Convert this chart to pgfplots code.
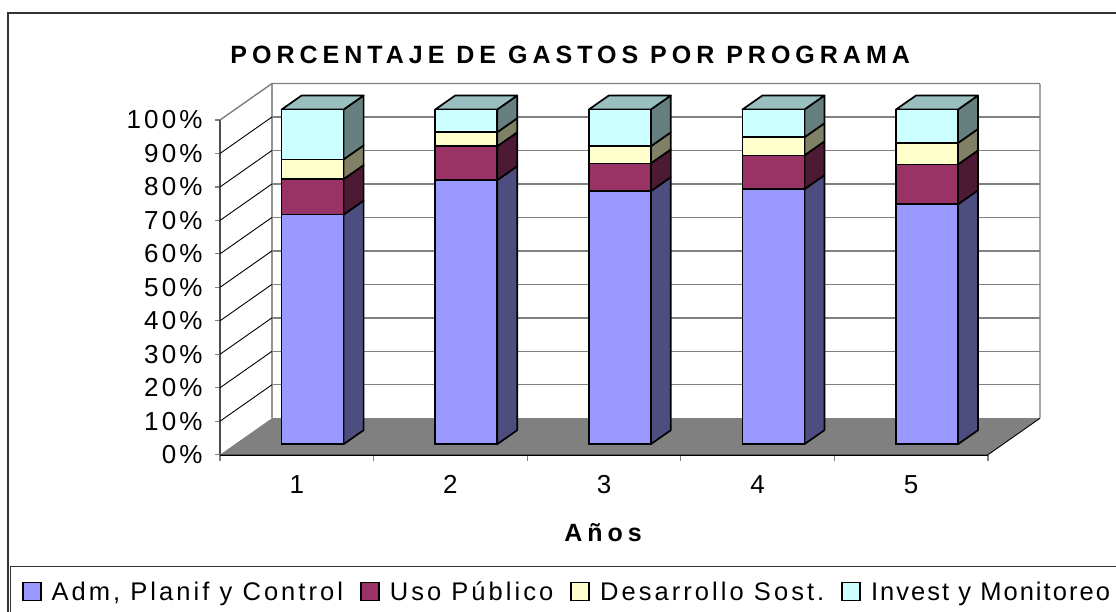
\documentclass[border=0pt]{standalone}
\usepackage{fontspec}
\setmainfont{Liberation Sans}[LetterSpace=12]
\usepackage{pgfplots}
\pgfplotsset{compat=1.18}

\definecolor{cAdm}{HTML}{9999FF}
\definecolor{cUso}{HTML}{993366}
\definecolor{cDes}{HTML}{FFFFCC}
\definecolor{cInv}{HTML}{CCFFFF}
\definecolor{sAdm}{HTML}{4D4D80}
\definecolor{sUso}{HTML}{4D1A33}
\definecolor{sDes}{HTML}{808066}
\definecolor{sInv}{HTML}{668080}
\definecolor{tInv}{HTML}{99BFBF}
\definecolor{wall}{HTML}{808080}

% one unit of x = 153.6 px, one % = 3.347 px
\pgfplotsset{
  frontaxis/.style={
    scale only axis, width=768pt, height=334.7pt,
    xmin=0.5, xmax=5.5, ymin=0, ymax=100,
    clip=false, anchor=south west,
  },
}

% side face of one stack segment
\newcommand{\sideface}[4]{%
  \pgfmathsetmacro{\xa}{#1+0.2018}\pgfmathsetmacro{\xb}{#1+0.3320}%
  \pgfmathsetmacro{\ya}{#2+4.18}\pgfmathsetmacro{\yb}{#3+4.18}%
  \edef\tmp{\noexpand\addplot[fill=#4,draw=black,line width=1.7pt,line join=round,mark=none,forget plot]
    coordinates {(\xa,#2)(\xb,\ya)(\xb,\yb)(\xa,#3)} -- cycle;}\tmp}
% all sides of a bar plus the top, cumulative values a<b<c
\newcommand{\barsides}[4]{%
  \sideface{#1}{0}{#2}{sAdm}\sideface{#1}{#2}{#3}{sUso}%
  \sideface{#1}{#3}{#4}{sDes}\sideface{#1}{#4}{100}{sInv}%
  \pgfmathsetmacro{\xl}{#1-0.2018}\pgfmathsetmacro{\xm}{#1-0.0716}%
  \pgfmathsetmacro{\xa}{#1+0.2018}\pgfmathsetmacro{\xb}{#1+0.3320}%
  \edef\tmp{\noexpand\addplot[fill=tInv,draw=black,line width=1.7pt,line join=round,mark=none,forget plot]
    coordinates {(\xl,100)(\xa,100)(\xb,104.18)(\xm,104.18)} -- cycle;}\tmp}
% gridline: thin diagonal on the left wall, then along the back wall
\newcommand{\gridlev}[1]{%
  \pgfmathsetmacro{\yb}{#1+10.9}%
  \edef\tmp{\noexpand\addplot[black,line width=0.9pt,mark=none,forget plot]
    coordinates {(0.5,#1)(0.8385,\yb)};
    \noexpand\addplot[wall,line width=1.4pt,mark=none,forget plot]
    coordinates {(0.8385,\yb)(5.8385,\yb)};}\tmp}

\begin{document}
\begin{tikzpicture}[x=1pt,y=1pt]
\path[use as bounding box] (0,0) rectangle (1116,611);
\fill[white] (0,0) rectangle (1116,611);
\draw[black!80,line width=2pt] (8,-5) -- (8,598) -- (1125,598);
\draw[black!80,line width=1.2pt] (10.5,-5) -- (10.5,44.3) -- (1125,44.3);

% walls, floor and axes
\begin{axis}[frontaxis, at={(220pt,156.3pt)},
  axis x line*=bottom, axis y line*=left,
  x axis line style={black,line width=2pt},
  y axis line style={wall!60!black,line width=1.2pt},
  xtick={1,2,3,4,5}, xticklabels={1,2,3,4,5},
  minor xtick={0.5,1.5,2.5,3.5,4.5,5.5},
  ytick={0,10,20,30,40,50,60,70,80,90,100},
  yticklabels={0\%,10\%,20\%,30\%,40\%,50\%,60\%,70\%,80\%,90\%,100\%},
  tick align=outside,
  major tick style={wall,line width=1.2pt},
  minor tick style={wall,line width=1.2pt},
  major tick length=5pt, minor tick length=6pt,
  x tick style={draw=none},
  every x tick/.style={draw=none},
  minor x tick style={draw=wall},
  tick label style={font=\fontsize{26}{30}\selectfont},
  xticklabel style={yshift=-12pt},
  yticklabel style={xshift=-9pt},
  title={\addfontfeatures{LetterSpace=20}PORCENTAJE DE GASTOS POR PROGRAMA},
  title style={font=\bfseries\fontsize{25}{29}\selectfont,at={(0.456,1)},anchor=center,yshift=59pt},
  xlabel={\addfontfeatures{LetterSpace=20}Años},
  xlabel style={font=\bfseries\fontsize{25}{29}\selectfont,at={(0.4987,0)},anchor=center,yshift=-78.3pt},
]
\addplot[fill=wall,draw=none,mark=none,forget plot]
  coordinates {(0.5,0)(5.5,0)(5.8385,10.9)(0.8385,10.9)} -- cycle;
\addplot[black,line width=0.9pt,mark=none,forget plot]
  coordinates {(5.5,0)(5.8385,10.9)};
\addplot[wall!85!white,line width=2pt,mark=none,forget plot]
  coordinates {(0.8385,10.9)(0.8385,110.9)};
\addplot[wall!70!white,line width=2pt,mark=none,forget plot]
  coordinates {(5.8385,10.9)(5.8385,110.9)};
\gridlev{10}\gridlev{20}\gridlev{30}\gridlev{40}\gridlev{50}
\gridlev{60}\gridlev{70}\gridlev{80}\gridlev{90}
\addplot[wall,line width=1.4pt,mark=none,forget plot]
  coordinates {(0.5,100)(0.8385,110.9)(5.8385,110.9)};
\end{axis}

% bar sides and tops, bars stand slightly behind the front edge
\begin{axis}[frontaxis, at={(235.8pt,166.8pt)}, hide axis]
\barsides{1}{68.6}{79.2}{85.1}
\barsides{2}{78.9}{89.0}{93.2}
\barsides{3}{75.6}{83.9}{89.0}
\barsides{4}{76.2}{86.3}{91.7}
\barsides{5}{71.7}{83.6}{90.0}
\end{axis}

% bar fronts and legend
\begin{axis}[frontaxis, at={(235.8pt,166.8pt)}, hide axis,
  ybar stacked, bar width=62pt,
  legend columns=4,
  legend cell align=left,
  legend style={at={(-0.2788,-0.4405)},anchor=west,draw=none,fill=none,inner sep=0pt,
    font=\fontsize{25.5}{29}\selectfont,
    /tikz/every even column/.append style={column sep=15pt}},
  legend image code/.code={\path (26pt,0pt);\draw[#1,draw=black,line width=1.7pt] (0pt,-9pt) rectangle (18pt,9pt);},
]
\addplot[fill=cAdm,draw=black,line width=1.7pt] coordinates {(1,68.6)(2,78.9)(3,75.6)(4,76.2)(5,71.7)};
\addplot[fill=cUso,draw=black,line width=1.7pt] coordinates {(1,10.6)(2,10.1)(3,8.3)(4,10.1)(5,11.9)};
\addplot[fill=cDes,draw=black,line width=1.7pt] coordinates {(1,5.9)(2,4.2)(3,5.1)(4,5.4)(5,6.4)};
\addplot[fill=cInv,draw=black,line width=1.7pt] coordinates {(1,14.9)(2,6.8)(3,11.0)(4,8.3)(5,10.0)};
\legend{{Adm, Planif y Control},Uso Público,Desarrollo Sost.,{\addfontfeatures{LetterSpace=8}Invest y Monitoreo}}
\end{axis}
\end{tikzpicture}
\end{document}
